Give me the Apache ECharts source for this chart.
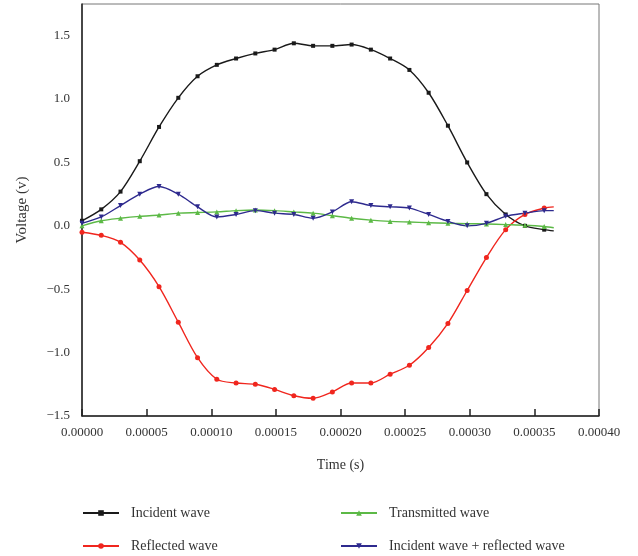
<!DOCTYPE html>
<html>
<head>
<meta charset="utf-8">
<script src="https://cdn.jsdelivr.net/npm/echarts@6/dist/echarts.min.js"></script>
<style>
  html, body { margin: 0; padding: 0; background: #fff; }
  #main { width: 638px; height: 556px; }
</style>
</head>
<body>
<div id="main"></div>
<script>
// sample times (s); last one is the end of the trace, drawn without a marker
const times = [0, 0.0000149, 0.0000298, 0.0000447, 0.0000596, 0.0000745, 0.0000894,
  0.0001043, 0.0001192, 0.0001341, 0.000149, 0.0001639, 0.0001788, 0.0001937,
  0.0002086, 0.0002235, 0.0002384, 0.0002533, 0.0002682, 0.0002831, 0.000298,
  0.0003129, 0.0003278, 0.0003427, 0.0003576, 0.000365];

const incident = [0.04, 0.13, 0.27, 0.51, 0.78, 1.01, 1.18, 1.27, 1.32, 1.36, 1.39, 1.44, 1.42,
  1.42, 1.43, 1.39, 1.32, 1.23, 1.05, 0.79, 0.50, 0.25, 0.09, 0.00, -0.03, -0.04];
const reflected = [-0.05, -0.075, -0.13, -0.27, -0.48, -0.76, -1.04, -1.21, -1.24, -1.25, -1.29, -1.34, -1.36,
  -1.31, -1.24, -1.24, -1.17, -1.10, -0.96, -0.77, -0.51, -0.25, -0.03, 0.09, 0.14, 0.15];
const transmitted = [0.0, 0.04, 0.06, 0.075, 0.085, 0.10, 0.105, 0.11, 0.12, 0.125, 0.12, 0.11, 0.10,
  0.08, 0.06, 0.045, 0.035, 0.03, 0.025, 0.02, 0.017, 0.015, 0.01, 0.005, -0.005, -0.015];
const combined = [0.02, 0.07, 0.16, 0.25, 0.31, 0.25, 0.15, 0.07, 0.09, 0.12, 0.10, 0.09, 0.06,
  0.11, 0.19, 0.16, 0.15, 0.14, 0.09, 0.035, 0.0, 0.02, 0.075, 0.10, 0.12, 0.12];

const seriesNames = ['Incident wave', 'Reflected wave', 'Transmitted wave', 'Incident wave + reflected wave'];
const seriesColors = ['#1a1a1a', '#f0261e', '#5cb946', '#2e2a8e'];
const seriesSymbols = ['rect', 'circle', 'triangle', 'triangle'];
// legend slot for each series: [left, top]
const legendPos = [[82, 506], [82, 539], [340, 506], [340, 539]];

const FONT = 'Liberation Serif';

function pts(vals) {
  return vals.map((v, i) => {
    const p = { value: [times[i], v] };
    if (i === vals.length - 1) p.symbol = 'none';
    return p;
  });
}

const allData = [incident, reflected, transmitted, combined];

const myChart = echarts.init(document.getElementById('main'), null, { renderer: 'canvas' });
myChart.setOption({
  animation: false,
  textStyle: { fontFamily: FONT },
  grid: {
    left: 82, right: 39, top: 4, bottom: 140,
    show: true, borderColor: '#777', borderWidth: 1
  },
  legend: seriesNames.map((name, k) => ({
    data: [name],
    left: legendPos[k][0], top: legendPos[k][1], padding: 0,
    itemWidth: 36, itemHeight: 7,
    textStyle: { fontFamily: FONT, fontSize: 14, color: '#333', padding: [0, 0, 0, 7] }
  })),
  xAxis: {
    type: 'value', min: 0, max: 0.0004, interval: 0.00005,
    name: 'Time (s)', nameLocation: 'middle', nameGap: 42,
    nameTextStyle: { fontFamily: FONT, fontSize: 14, color: '#333' },
    axisLine: { onZero: false, lineStyle: { color: '#222', width: 1.5 } },
    axisTick: { inside: true, length: 7, lineStyle: { color: '#222', width: 1.5 } },
    axisLabel: { fontFamily: FONT, fontSize: 13, color: '#333', margin: 10,
      formatter: v => v.toFixed(5) },
    splitLine: { show: false }
  },
  yAxis: {
    type: 'value', min: -1.5, max: 1.75, interval: 0.5,
    name: 'Voltage (v)', nameLocation: 'middle', nameGap: 52,
    nameTextStyle: { fontFamily: FONT, fontSize: 15, color: '#333' },
    axisLine: { onZero: false, lineStyle: { color: '#222', width: 1.5 } },
    axisTick: { show: false },
    axisLabel: { fontFamily: FONT, fontSize: 13, color: '#333', margin: 12, showMaxLabel: false,
      formatter: v => (v < 0 ? '\u2212' + Math.abs(v).toFixed(1) : v.toFixed(1)) },
    splitLine: { show: false }
  },
  series: seriesNames.map((name, k) => ({
    name: name,
    type: 'line',
    smooth: 0.3,
    data: pts(allData[k]),
    symbol: seriesSymbols[k],
    symbolSize: k === 0 ? 4 : 5,
    symbolRotate: k === 3 ? 180 : 0,
    showAllSymbol: true,
    color: seriesColors[k],
    lineStyle: { width: 1.4, color: seriesColors[k] },
    itemStyle: { color: seriesColors[k] }
  }))
});
</script>
</body>
</html>
